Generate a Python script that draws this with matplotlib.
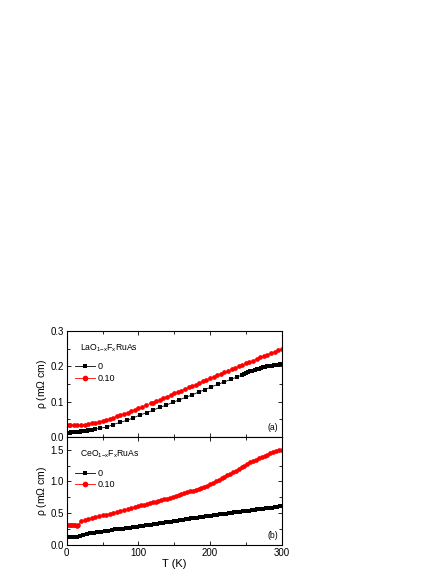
import numpy as np
import matplotlib
matplotlib.use('Agg')
import matplotlib.pyplot as plt
from matplotlib.ticker import MultipleLocator

plt.rcParams['font.family'] = ['Liberation Sans', 'DejaVu Sans']
plt.rcParams['mathtext.fontset'] = 'custom'
plt.rcParams['mathtext.rm'] = 'Liberation Sans'
plt.rcParams['mathtext.it'] = 'Liberation Sans'

# ---- panel (a) LaO1-xFxRuAs ----
t_la_0 = [2, 4, 6, 8, 10, 12, 14, 16, 18, 20, 22, 24, 26, 28, 30, 32, 34, 36,
          40, 47, 56, 65, 74, 84, 93, 102, 112, 121, 130, 139, 148, 157, 166, 175,
          184, 193, 202, 211, 220, 229, 238,
          244, 247, 250, 253, 256, 259, 262, 265, 268, 271, 274, 277, 280, 283,
          286, 289, 292, 295, 298, 300]
rho_la_0 = [0.012, 0.012, 0.013, 0.013, 0.013, 0.014, 0.014, 0.015, 0.015, 0.016,
            0.016, 0.017, 0.017, 0.018, 0.019, 0.019, 0.020, 0.021,
            0.022, 0.025, 0.028, 0.035, 0.041, 0.047, 0.054, 0.062, 0.069, 0.076,
            0.084, 0.090, 0.098, 0.105, 0.112, 0.119, 0.127, 0.134, 0.142, 0.149,
            0.156, 0.163, 0.170,
            0.175, 0.178, 0.181, 0.184, 0.186, 0.187, 0.189, 0.191, 0.193, 0.195,
            0.197, 0.198, 0.200, 0.201, 0.202, 0.203, 0.204, 0.205, 0.206, 0.206]

t_la_10 = [3, 5, 10, 15, 20, 25, 30, 35, 40, 45, 50, 55, 60, 65, 70, 75, 80, 85,
           90, 95, 100, 105, 110, 117, 120, 125, 130, 135, 140, 145, 150, 155, 160,
           165, 170, 175, 180, 185, 190, 195, 200, 205, 210, 215, 220, 225, 230,
           235, 240, 245, 250, 255, 260, 265, 270, 275, 280, 285, 290, 295, 300]
rho_la_10 = [0.034, 0.034, 0.033, 0.033, 0.034, 0.035, 0.036, 0.038, 0.040, 0.042,
             0.045, 0.048, 0.051, 0.054, 0.058, 0.061, 0.065, 0.069, 0.073, 0.077,
             0.081, 0.085, 0.089, 0.095, 0.097, 0.101, 0.105, 0.110, 0.114, 0.118,
             0.123, 0.127, 0.131, 0.135, 0.140, 0.144, 0.148, 0.153, 0.157, 0.161,
             0.166, 0.170, 0.174, 0.178, 0.183, 0.187, 0.191, 0.195, 0.200, 0.204,
             0.208, 0.212, 0.216, 0.220, 0.225, 0.229, 0.233, 0.237, 0.241, 0.245,
             0.250]

# ---- panel (b) CeO1-xFxRuAs ----
t_ce_0 = [2, 4, 6, 8, 10, 12, 14, 18, 23, 28, 33, 38, 43, 48, 53, 58, 63, 68, 73,
          78, 83, 88, 93, 98,
          102, 106, 110, 114, 118, 122, 126, 130, 134, 138, 142, 146, 150, 154,
          158, 162, 166, 170, 174, 178, 182, 186, 190, 194, 198, 202, 206, 210,
          214, 218, 222, 226, 230, 234, 238, 242, 246, 250, 254, 258, 262, 266,
          270, 274, 278, 282, 286, 290, 294, 298, 300]
rho_ce_0 = [0.120, 0.120, 0.121, 0.121, 0.122, 0.123, 0.125, 0.145, 0.158, 0.168,
            0.180, 0.190, 0.199, 0.208, 0.218, 0.226, 0.235, 0.243, 0.250, 0.257,
            0.264, 0.272, 0.279, 0.287,
            0.293, 0.300, 0.307, 0.314, 0.321, 0.327, 0.334, 0.341, 0.348, 0.355,
            0.361, 0.368, 0.375, 0.382, 0.389, 0.395, 0.402, 0.409, 0.416, 0.423,
            0.429, 0.436, 0.443, 0.450, 0.457, 0.463, 0.469, 0.475, 0.481, 0.487,
            0.493, 0.499, 0.505, 0.511, 0.517, 0.523, 0.529, 0.535, 0.541, 0.547,
            0.553, 0.558, 0.564, 0.570, 0.576, 0.582, 0.588, 0.594, 0.600, 0.605,
            0.607]

t_ce_10 = [2, 4, 6, 8, 10, 12, 14, 16, 20, 25, 30, 35, 40, 45, 50, 55, 60, 65, 70,
           75, 80, 85, 90, 95, 100,
           104, 108, 112, 116, 120, 124, 128, 132, 136, 140, 144, 148, 152, 156,
           160, 164, 168, 172, 176, 180, 184, 188, 192, 196, 200, 204, 208, 212,
           216, 220, 224, 228, 232, 236, 240, 244, 248, 252, 256, 260, 264, 268,
           272, 276, 280, 284, 288, 292, 296, 300]
rho_ce_10 = [0.315, 0.312, 0.310, 0.310, 0.308, 0.306, 0.305, 0.310, 0.370, 0.390,
             0.405, 0.422, 0.437, 0.452, 0.465, 0.478, 0.490, 0.505, 0.520, 0.535,
             0.550, 0.565, 0.580, 0.595, 0.610,
             0.622, 0.634, 0.646, 0.658, 0.670, 0.682, 0.694, 0.706, 0.718, 0.730,
             0.742, 0.755, 0.768, 0.782, 0.797, 0.811, 0.826, 0.841, 0.856, 0.871,
             0.886, 0.902, 0.918, 0.934, 0.952, 0.975, 1.000, 1.025, 1.050, 1.074,
             1.098, 1.122, 1.146, 1.170, 1.196, 1.222, 1.248, 1.274, 1.298, 1.320,
             1.342, 1.362, 1.382, 1.402, 1.422, 1.440, 1.456, 1.472, 1.487, 1.500]

x_ticks = [0, 100, 200, 300]
y_ticks_a = [0.0, 0.1, 0.2, 0.3]
y_ticks_b = [0.0, 0.5, 1.0, 1.5]
legend_labels = ['0', '0.10']

fig = plt.figure(figsize=(4.43, 5.73), dpi=100)
ax1 = fig.add_axes([0.1505, 0.2375, 0.4855, 0.1848])
ax2 = fig.add_axes([0.1505, 0.0490, 0.4855, 0.1885])

panels = [
    (ax1, t_la_0, rho_la_0, t_la_10, rho_la_10, 0.3, y_ticks_a, 0.05,
     r'LaO$_{1\mathregular{-}x}$F$_x$RuAs', '(a)'),
    (ax2, t_ce_0, rho_ce_0, t_ce_10, rho_ce_10, 1.7, y_ticks_b, 0.25,
     r'CeO$_{1\mathregular{-}x}$F$_x$RuAs', '(b)'),
]

for ax, t0, r0, t1, r1, ymax, yt, ymin, title, tag in panels:
    ax.plot(t0, r0, 's-', color='black', ms=2.8, lw=0.6, mew=0, label=legend_labels[0])
    ax.plot(t1, r1, 'o-', color='red', ms=3.4, lw=0.6, mew=0, label=legend_labels[1])
    ax.set_xlim(0, 300)
    ax.set_ylim(0, ymax)
    ax.set_xticks(x_ticks)
    ax.xaxis.set_minor_locator(MultipleLocator(50))
    ax.set_yticks(yt)
    ax.set_yticklabels(['%.1f' % v for v in yt])
    ax.yaxis.set_minor_locator(MultipleLocator(ymin))
    ax.set_ylim(0, ymax)
    ax.tick_params(which='both', direction='in', top=True, right=True,
                   labelsize=7, width=0.6, pad=2)
    ax.tick_params(which='major', length=3)
    ax.tick_params(which='minor', length=2)
    for s in ax.spines.values():
        s.set_linewidth(0.8)
    ax.set_ylabel(r'$\rho$ (m$\Omega$ cm)', fontsize=7.5)
    ax.yaxis.set_label_coords(-0.08, 0.5)
    leg = ax.legend(loc='upper left', bbox_to_anchor=(0.0, 0.78), frameon=False,
                    fontsize=6.5, handlelength=2.2, handletextpad=0.3,
                    labelspacing=0.25, numpoints=1, markerscale=1.2)
    ax.text(0.06, 0.82, title, transform=ax.transAxes, fontsize=6.2)
    ax.text(0.985, 0.05, tag, transform=ax.transAxes, fontsize=6.2, ha='right',
            va='bottom')

ax1.tick_params(labelbottom=False)
ax2.set_xticklabels([str(v) for v in x_ticks])
ax2.set_xlabel('T (K)', fontsize=8, labelpad=1)

fig.savefig('out.png', dpi=100)
